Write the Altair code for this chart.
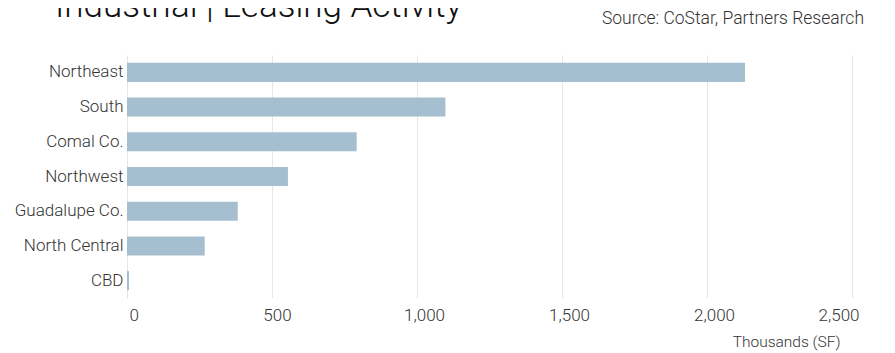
import altair as alt
import pandas as pd

regions = ["Northeast", "South", "Comal Co.", "Northwest", "Guadalupe Co.", "North Central", "CBD"]
leasing = [2131, 1098, 792, 555, 382, 268, 7]
x_ticks = [0, 500, 1000, 1500, 2000, 2500]

df = pd.DataFrame({"region": regions, "value": leasing})

FONT = "Roboto"
TXT = "#333333"

bars = alt.Chart(df).mark_bar(color="#a5bfd0").encode(
    x=alt.X(
        "value:Q",
        scale=alt.Scale(domain=[0, 2500], nice=False),
        axis=alt.Axis(
            values=x_ticks,
            format=",.0f",
            title="Thousands (SF)",
            titleFont=FONT,
            titleFontWeight=300,
            titleFontSize=15.5,
            titleColor=TXT,
            titleX=713,
            titleY=36,
            titleAlign="right",
            titleBaseline="top",
            labelFont=FONT,
            labelFontWeight=300,
            labelFontSize=17,
            labelColor=TXT,
            labelPadding=9,
            labelOffset=alt.ExprRef(expr="datum.value == 0 ? 2 : (datum.value == 500 ? 5 : 7)"),
            labelOverlap=False,
            domain=False,
            ticks=False,
            grid=True,
            gridColor="#e6e6e6",
            gridWidth=1,
        ),
    ),
    y=alt.Y(
        "region:N",
        sort=regions,
        scale=alt.Scale(paddingInner=0.45, paddingOuter=0.225),
        axis=alt.Axis(
            title=None,
            labelFont=FONT,
            labelFontWeight=300,
            labelFontSize=17,
            labelColor=TXT,
            labelPadding=4,
            domain=True,
            domainColor="#e6e6e6",
            ticks=False,
            grid=False,
        ),
    ),
)

src = alt.Chart(pd.DataFrame({"t": ["Source: CoStar, Partners Research"]})).mark_text(
    align="right", baseline="alphabetic", font=FONT, fontWeight=300, fontSize=17.5, color=TXT
).encode(text="t:N", x=alt.value(737), y=alt.value(-31))

ttl = alt.Chart(pd.DataFrame({"t": ["Industrial | Leasing Activity"]})).mark_text(
    align="left", baseline="alphabetic", font=FONT, fontWeight=300, fontSize=35, color="#111111"
).encode(text="t:N", x=alt.value(-72), y=alt.value(-38))

chart = alt.layer(bars, src, ttl).properties(
    width=725,
    height=243,
    autosize=alt.AutoSizeParams(type="none"),
    padding={"left": 119, "top": 47, "right": 30, "bottom": 53},
).configure_view(stroke=None)

chart.save("out.html", embed_options={"renderer": "svg", "actions": False})
